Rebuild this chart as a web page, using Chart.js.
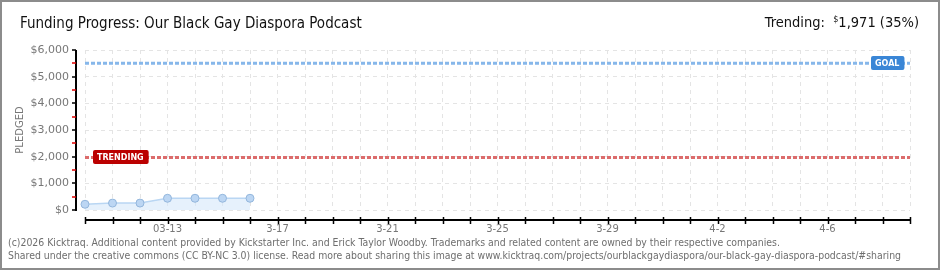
<!DOCTYPE html>
<html lang="en">
<head>
<meta charset="UTF-8">
<title>Funding Progress</title>
<script src="https://cdn.jsdelivr.net/npm/chart.js"></script>
<style>
    body { margin: 0; background: #fff; }
    #wrap { position: relative; width: 940px; height: 270px; overflow: hidden; background: #fff; }
    #frame { position: absolute; left: 0; top: 0; width: 940px; height: 270px; box-sizing: border-box; border: 2px solid #8c8c8c; pointer-events: none; }
    #title { position: absolute; left: 20px; top: 14px; font: 15px "Liberation Sans Narrow", "DejaVu Sans Condensed", sans-serif; color: #111; white-space: nowrap; }
    #trend { position: absolute; right: 21px; top: 14px; font: 14.5px "Liberation Sans Narrow", "DejaVu Sans Condensed", sans-serif; color: #111; white-space: nowrap; }
    #trend sup { font-size: 9px; vertical-align: 5px; }
    #foot { position: absolute; left: 8px; top: 236px; font: 10.4px "Liberation Sans Narrow", "DejaVu Sans Condensed", sans-serif; color: #6e6e6e; line-height: 13px; white-space: nowrap; }
    canvas { position: absolute; left: 0; top: 0; }
</style>
</head>
<body>
<div id="wrap">
    <canvas id="chart" width="940" height="270"></canvas>
    <div id="title">Funding Progress: Our Black Gay Diaspora Podcast</div>
    <div id="trend">Trending:&nbsp; <sup>$</sup>1,971 (35%)</div>
    <div id="foot">(c)2026 Kicktraq. Additional content provided by Kickstarter Inc. and Erick Taylor Woodby. Trademarks and related content are owned by their respective companies.<br>Shared under the creative commons (CC BY-NC 3.0) license. Read more about sharing this image at www.kicktraq.com/projects/ourblackgaydiaspora/our-black-gay-diaspora-podcast/#sharing</div>
    <div id="frame"></div>
</div>
<script>
// dni kampanii
const days = ['3-10', '3-11', '3-12', '3-13', '3-14', '3-15', '3-16', '3-17', '3-18', '3-19', '3-20',
    '3-21', '3-22', '3-23', '3-24', '3-25', '3-26', '3-27', '3-28', '3-29', '3-30', '3-31',
    '4-1', '4-2', '4-3', '4-4', '4-5', '4-6', '4-7', '4-8', '4-9'];
const tickLabels = ['', '', '', '03-13', '', '', '', '3-17', '', '', '',
    '3-21', '', '', '', '3-25', '', '', '', '3-29', '', '',
    '', '4-2', '', '', '', '4-6', '', '', ''];
const pledged = [215, 260, 260, 440, 440, 440, 440];
const goal = 5500;
const trending = 1971;
const yTicks = [0, 1000, 2000, 3000, 4000, 5000, 6000];

const goalLine = [{ x: days[0], y: goal }, { x: days[days.length - 1], y: goal }];
const trendLine = [{ x: days[0], y: trending }, { x: days[days.length - 1], y: trending }];

// osie rysowane z przesunieciem od obszaru wykresu
const axesPlugin = {
    id: 'axes',
    afterDraw(chart) {
        const ctx = chart.ctx;
        const area = chart.chartArea;
        const x = chart.scales.x;
        const y = chart.scales.y;
        const ax = area.left - 9;
        const ay = area.bottom + 10;
        ctx.save();
        ctx.strokeStyle = '#000';
        ctx.lineWidth = 2;
        ctx.beginPath();
        ctx.moveTo(ax, area.top);
        ctx.lineTo(ax, area.bottom + 1);
        ctx.moveTo(area.left, ay);
        ctx.lineTo(area.right + 1, ay);
        ctx.stroke();
        ctx.lineWidth = 1.5;
        ctx.beginPath();
        yTicks.forEach(v => {
            const py = Math.round(y.getPixelForValue(v));
            ctx.moveTo(ax - 4, py);
            ctx.lineTo(ax, py);
        });
        days.forEach((d, i) => {
            const px = Math.round(x.getPixelForValue(i)) + 0.5;
            ctx.moveTo(px, ay - 3);
            ctx.lineTo(px, ay + 4);
        });
        ctx.stroke();
        ctx.strokeStyle = '#e00000';
        ctx.beginPath();
        yTicks.slice(0, -1).forEach(v => {
            const py = Math.round(y.getPixelForValue(v + 500));
            ctx.moveTo(ax - 4, py);
            ctx.lineTo(ax, py);
        });
        ctx.stroke();
        ctx.restore();
    }
};

// etykiety GOAL i TRENDING
const badgePlugin = {
    id: 'badges',
    afterDatasetsDraw(chart) {
        const ctx = chart.ctx;
        const y = chart.scales.y;
        const area = chart.chartArea;
        const drawBadge = (text, left, val, color) => {
            const cy = Math.round(y.getPixelForValue(val));
            ctx.font = 'bold 8px "DejaVu Sans", sans-serif';
            const w = ctx.measureText(text).width + 9;
            ctx.fillStyle = color;
            ctx.beginPath();
            ctx.roundRect(left, cy - 7, w, 14, 2);
            ctx.fill();
            ctx.fillStyle = '#fff';
            ctx.textBaseline = 'middle';
            ctx.fillText(text, left + 4, cy + 0.5);
        };
        ctx.save();
        drawBadge('GOAL', area.right - 39, goal, '#3a86d6');
        drawBadge('TRENDING', area.left + 8, trending, '#bb0000');
        ctx.restore();
    }
};

new Chart(document.getElementById('chart'), {
    type: 'line',
    data: {
        labels: days,
        datasets: [
            {
                data: pledged,
                borderColor: '#b9d6f3',
                borderWidth: 1.5,
                backgroundColor: 'rgba(214,232,250,0.6)',
                fill: 'origin',
                tension: 0,
                pointRadius: 4,
                pointBackgroundColor: '#bcd6f3',
                pointBorderColor: '#93b6dc',
                pointBorderWidth: 1
            },
            {
                data: goalLine,
                borderColor: '#86b7ea',
                borderWidth: 3,
                borderDash: [4, 2],
                pointRadius: 0,
                fill: false
            },
            {
                data: trendLine,
                borderColor: '#dc6c6c',
                borderWidth: 3,
                borderDash: [4, 2],
                pointRadius: 0,
                fill: false
            }
        ]
    },
    options: {
        responsive: false,
        animation: false,
        layout: { padding: { top: 50, right: 30, bottom: 0, left: 14 } },
        plugins: { legend: { display: false }, tooltip: { enabled: false } },
        scales: {
            x: {
                type: 'category',
                offset: false,
                afterFit: s => { s.height = 60; },
                border: { display: false, dash: [4, 4] },
                grid: { color: '#e4e4e4', drawTicks: false },
                ticks: {
                    autoSkip: false,
                    maxRotation: 0,
                    padding: 13,
                    color: '#777',
                    font: { family: 'DejaVu Sans', size: 10 },
                    callback: (v, i) => tickLabels[i]
                }
            },
            y: {
                min: 0,
                max: 6000,
                afterFit: s => { s.width = 71; },
                afterBuildTicks: s => { s.ticks = yTicks.map(v => ({ value: v })); },
                border: { display: false, dash: [4, 4] },
                grid: { color: '#e4e4e4', drawTicks: false },
                ticks: {
                    padding: 16,
                    color: '#777',
                    font: { family: 'DejaVu Sans', size: 11 },
                    callback: v => '$' + v.toLocaleString('en-US')
                },
                title: {
                    display: true,
                    text: 'PLEDGED',
                    color: '#777',
                    font: { family: 'DejaVu Sans', size: 10 },
                    padding: { top: 0, bottom: 0 }
                }
            }
        }
    },
    plugins: [axesPlugin, badgePlugin]
});
</script>
</body>
</html>
